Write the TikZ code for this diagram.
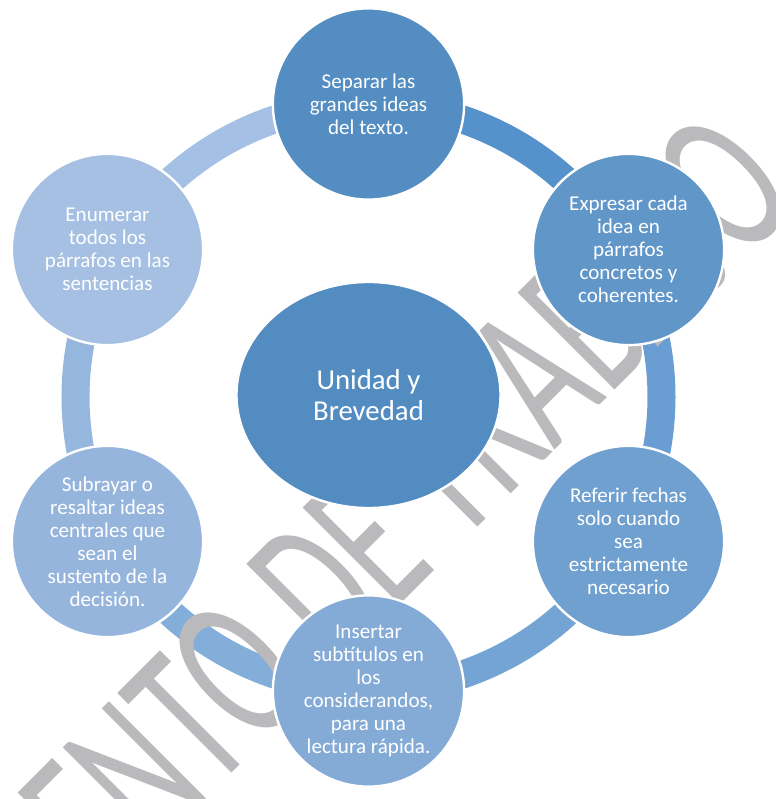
\documentclass[tikz,border=0pt]{standalone}
\usepackage{fontspec}
\setmainfont{Carlito}
\usetikzlibrary{shapes.geometric}

\definecolor{hubblue}{RGB}{83,140,193}
\definecolor{ideaA}{RGB}{84,141,194}
\definecolor{ideaB}{RGB}{97,150,201}
\definecolor{ideaC}{RGB}{112,160,208}
\definecolor{ideaD}{RGB}{132,170,214}
\definecolor{ideaE}{RGB}{149,181,220}
\definecolor{ideaF}{RGB}{165,192,226}
\definecolor{segA}{RGB}{85,146,203}
\definecolor{segB}{RGB}{106,157,210}
\definecolor{segC}{RGB}{116,164,212}
\definecolor{segD}{RGB}{130,174,217}
\definecolor{segE}{RGB}{149,182,221}
\definecolor{segF}{RGB}{164,193,229}
\definecolor{wmgray}{RGB}{186,185,187}

\begin{document}
\begin{tikzpicture}[
        x = 0.025cm, y = 0.025cm,
        ringseg/.style = {line width = 0.7cm},
        idea/.style = {circle, draw = white, line width = 0.06cm, minimum size = 4.78cm, inner sep = 0pt, text = white, align = center, font = \fontsize{15}{16.4}\selectfont},
        hub/.style = {ellipse, draw = white, line width = 0.06cm, fill = hubblue, minimum width = 6.6cm, minimum height = 5.65cm, inner sep = 0pt, text = white, align = center, font = \fontsize{20.5}{21.5}\selectfont},
        watermark/.style = {text = wmgray, font = \fontsize{152}{152}\selectfont, inner sep = 0pt}
    ]
        \useasboundingbox (-368.5,-402) rectangle (406.5,397);

        % ring
        \draw[ringseg, segA] (90:293) arc[start angle = 90, end angle = 30, radius = 293];
        \draw[ringseg, segB] (30:293) arc[start angle = 30, end angle = -30, radius = 293];
        \draw[ringseg, segC] (-30:293) arc[start angle = -30, end angle = -90, radius = 293];
        \draw[ringseg, segD] (-90:293) arc[start angle = -90, end angle = -150, radius = 293];
        \draw[ringseg, segE] (-150:293) arc[start angle = -150, end angle = -210, radius = 293];
        \draw[ringseg, segF] (150:293) arc[start angle = 150, end angle = 90, radius = 293];

        \node[watermark, anchor = base, rotate = 45, xscale = 0.61] (wm) at (-65.5,-305) {DOCUMENTO DE TRABAJO};

        \node[idea, fill = ideaA] (separar) at (0,293) {Separar las\\grandes ideas\\del texto.};
        \node[idea, fill = ideaB] (expresar) at (260,147.5) {Expresar cada\\idea en\\párrafos\\concretos y\\coherentes.};
        \node[idea, fill = ideaC] (referir) at (260,-144.5) {Referir fechas\\solo cuando\\sea\\estrictamente\\necesario};
        \node[idea, fill = ideaD] (insertar) at (0,-294) {Insertar\\subtítulos en\\los\\considerandos,\\para una\\lectura rápida.};
        \node[idea, fill = ideaE] (subrayar) at (-261,-144.5) {Subrayar o\\resaltar ideas\\centrales que\\sean el\\sustento de la\\decisión.};
        \node[idea, fill = ideaF] (enumerar) at (-261,147.5) {Enumerar\\todos los\\párrafos en las\\sentencias};

        \node[hub] (unidad) at (0,2) {Unidad y\\Brevedad};

\end{tikzpicture}
\end{document}
